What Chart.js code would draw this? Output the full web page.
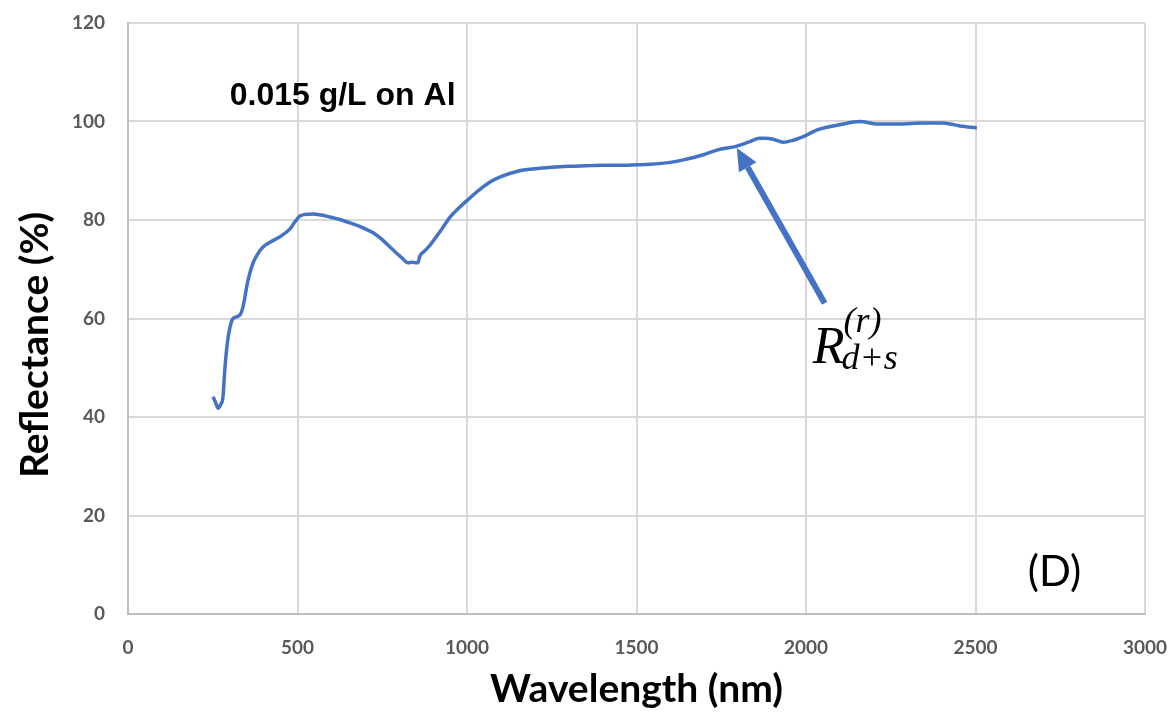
<!DOCTYPE html>
<html>
<head>
<meta charset="utf-8">
<script src="https://cdn.jsdelivr.net/npm/chart.js@4"></script>
<style>
html,body{margin:0;padding:0;background:#fff;}
#wrap{width:1175px;height:717px;}
</style>
</head>
<body>
<div id="wrap"><canvas id="c" width="1175" height="717"></canvas></div>
<script>
// Wavelength (nm)
const wavelength = [251,258,266,273,280,286,293,301,310,330,339,354,369,382,395,419,448,478,490,500,507,520,546,570,596,625,655,690,723,750,773,790,808,826,840,850,855,861,875,891,920,950,980,1009,1040,1068,1100,1150,1200,1250,1300,1350,1400,1450,1500,1540,1600,1638,1700,1737,1796,1830,1864,1880,1903,1933,1962,2000,2033,2080,2110,2139,2160,2210,2277,2345,2404,2454,2504];
// Reflectance (%)
const reflectance = [44.1,43.0,41.8,42.5,44.0,50.0,55.0,58.3,60.0,60.7,62.3,67.8,71.3,73.0,74.3,75.5,76.6,78.2,79.4,80.3,80.8,81.1,81.2,81.0,80.6,80.1,79.4,78.5,77.4,76.0,74.5,73.4,72.3,71.3,71.4,71.3,71.3,72.7,73.7,74.9,77.6,80.6,82.7,84.5,86.3,87.7,88.8,89.9,90.4,90.7,90.9,91.0,91.1,91.1,91.2,91.3,91.7,92.2,93.3,94.2,95.0,95.8,96.6,96.6,96.4,95.8,96.2,97.2,98.3,99.1,99.5,99.9,100.0,99.5,99.5,99.7,99.7,99.1,98.7];
const xTicks = [0,500,1000,1500,2000,2500,3000];
const yTicks = [0,20,40,60,80,100,120];
const xTitle = 'Wavelength (nm)';
const yTitle = 'Reflectance (%)';
const sampleLabel = '0.015 g/L on Al';
const panelLabel = '(D)';
const arrowFrom = [2055, 63.1];
const arrowTo = [1796, 94.6];
const sampleLabelAt = [300, 103.3];
const mathLabelAt = [2020, 51];
const panelLabelAt = [2654, 5.7];

const points = wavelength.map((w,i)=>({x:w,y:reflectance[i]}));
const blue = '#4472C4';

const annot = {
  id:'annot',
  afterDatasetsDraw(chart){
    const {ctx, scales:{x,y}} = chart;
    ctx.save();
    // arrow
    const x0 = x.getPixelForValue(arrowFrom[0]), y0 = y.getPixelForValue(arrowFrom[1]);
    const x1 = x.getPixelForValue(arrowTo[0]), y1 = y.getPixelForValue(arrowTo[1]);
    const ang = Math.atan2(y1-y0, x1-x0);
    const headLen = 22, headW = 10;
    const bx = x1 - headLen*Math.cos(ang), by = y1 - headLen*Math.sin(ang);
    ctx.strokeStyle = blue; ctx.fillStyle = blue; ctx.lineWidth = 6; ctx.lineCap='butt';
    ctx.beginPath(); ctx.moveTo(x0,y0); ctx.lineTo(bx,by); ctx.stroke();
    ctx.beginPath();
    ctx.moveTo(x1,y1);
    ctx.lineTo(bx + headW*Math.sin(ang), by - headW*Math.cos(ang));
    ctx.lineTo(bx - headW*Math.sin(ang), by + headW*Math.cos(ang));
    ctx.closePath(); ctx.fill();
    // sample label
    ctx.fillStyle = '#000';
    ctx.textBaseline = 'alphabetic'; ctx.textAlign = 'left';
    ctx.font = 'bold 32px "Liberation Sans", Arial, sans-serif';
    ctx.fillText(sampleLabel, x.getPixelForValue(sampleLabelAt[0]), y.getPixelForValue(sampleLabelAt[1]));
    // math label R_{d+s}^{(r)}
    const mx = x.getPixelForValue(mathLabelAt[0]), my = y.getPixelForValue(mathLabelAt[1]);
    ctx.font = 'italic 52px "Liberation Serif", "DejaVu Serif", serif';
    ctx.fillText('R', mx, my);
    const rw = ctx.measureText('R').width;
    ctx.font = 'italic 36px "Liberation Serif", "DejaVu Serif", serif';
    ctx.fillText('(r)', mx + rw - 1, my - 31);
    ctx.fillText('d+s', mx + rw - 3, my + 6);
    // panel label
    ctx.font = '42px Lato, "Open Sans", sans-serif';
    ctx.fillText(panelLabel, x.getPixelForValue(panelLabelAt[0]), y.getPixelForValue(panelLabelAt[1]));
    ctx.restore();
  },
  afterDraw(chart){
    const {ctx} = chart;
    ctx.save();
    ctx.translate(35, 345);
    ctx.rotate(-Math.PI/2);
    ctx.font = 'bold 40px Lato, "Open Sans", sans-serif';
    const w = ctx.measureText(yTitle).width;
    const size = Math.round(40 * 266 / w);
    ctx.font = 'bold ' + size + 'px Lato, "Open Sans", sans-serif';
    ctx.fillStyle = '#000';
    ctx.textAlign = 'center'; ctx.textBaseline = 'middle';
    ctx.fillText(yTitle, 0, 0);
    ctx.restore();
  }
};

new Chart(document.getElementById('c'), {
  type:'line',
  data:{ datasets:[{ data: points, borderColor: blue, borderWidth: 3.5, pointRadius: 0, fill:false, tension: 0.3, cubicInterpolationMode:'monotone' }] },
  options:{
    responsive:false, devicePixelRatio:1, animation:false,
    layout:{ padding:{ top:23, right:30, left:0, bottom:0 } },
    plugins:{ legend:{display:false}, tooltip:{enabled:false} },
    scales:{
      x:{
        type:'linear', min:0, max:3000,
        afterBuildTicks(s){ s.ticks = xTicks.map(v=>({value:v})); },
        afterFit(s){ s.height = 103; s.paddingLeft = 0; s.paddingRight = 0; },
        grid:{ color:'#d9d9d9', lineWidth:2, drawTicks:false },
        border:{ color:'#bfbfbf', width:2 },
        ticks:{ padding:22, color:'#595959', font:{ family:'Lato', weight:'bold', size:19 }, callback:(v)=>String(v) },
        title:{ display:true, text:xTitle, color:'#000', font:{ family:'Lato', weight:'bold', size:39, lineHeight:1 }, padding:{top:8,bottom:8} }
      },
      y:{
        type:'linear', min:0, max:120,
        afterBuildTicks(s){ s.ticks = yTicks.map(v=>({value:v})); },
        afterFit(s){ s.width = 128; s.paddingTop = 0; s.paddingBottom = 0; },
        grid:{ color:'#d9d9d9', lineWidth:2, drawTicks:false },
        border:{ color:'#bfbfbf', width:2 },
        ticks:{ padding:23, color:'#595959', font:{ family:'Lato', weight:'bold', size:19 }, callback:(v)=>String(v) },
        title:{ display:false }
      }
    }
  },
  plugins:[annot]
});
</script>
</body>
</html>
